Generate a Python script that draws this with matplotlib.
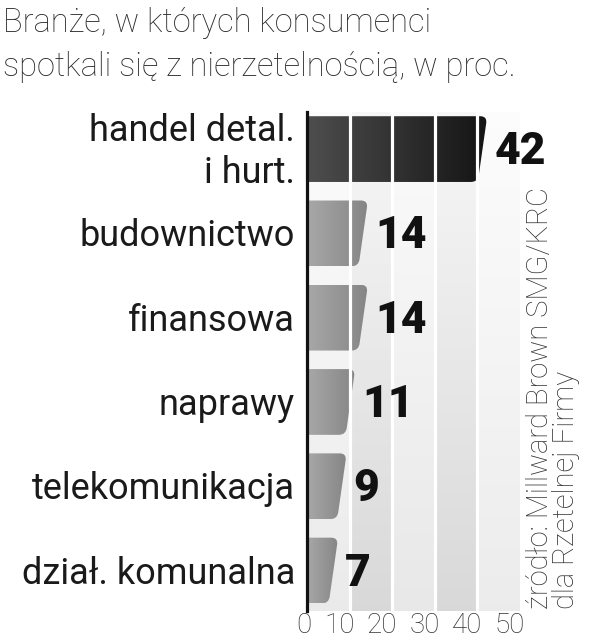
import numpy as np
import matplotlib
matplotlib.use("Agg")
import matplotlib.pyplot as plt
from matplotlib.path import Path
from matplotlib.patches import PathPatch
from matplotlib.colors import LinearSegmentedColormap
import matplotlib.transforms as mtransforms

# dane
categories = ["handel detal.\ni hurt.", "budownictwo", "finansowa",
              "naprawy", "telekomunikacja", "dział. komunalna"]
values = [42, 14, 14, 11, 9, 7]
ticks = [0, 10, 20, 30, 40, 50]
title_lines = ["Branże, w których konsumenci",
               "spotkali się z nierzetelnością, w proc."]
source_lines = ["źródło: Millward Brown SMG/KRC", "dla Rzetelnej Firmy"]

NARROW = ["Liberation Sans Narrow", "Roboto", "DejaVu Sans"]
LIGHT = ["Roboto", "DejaVu Sans"]

fig = plt.figure(figsize=(6, 6.4), dpi=100)
ax = fig.add_axes([307 / 600, 29 / 640, 213 / 600, 499 / 640])
ax.set_xlim(0, 50)
ax.set_ylim(5.48, -0.44)
for s in ax.spines.values():
    s.set_visible(False)
ax.set_yticks([])

# tlo: pionowe pasy z gradientem
top_g = [0.99, 0.97, 0.985, 0.97, 0.99]
bot_g = [0.92, 0.85, 0.91, 0.85, 0.925]
rows = 200
bg = np.zeros((rows, 50, 3))
t = np.linspace(0, 1, rows)[:, None]
for i in range(5):
    col = top_g[i] + (bot_g[i] - top_g[i]) * t
    bg[:, i * 10:(i + 1) * 10, :] = col[:, :, None]
ax.imshow(bg, extent=(0, 50, 5.48, -0.44), aspect="auto",
          interpolation="nearest", zorder=0)

bar_h = 0.78


def rounded_bar(y, v, r=7):
    top, bot = y - bar_h / 2, y + bar_h / 2
    pts = ax.transData.transform([(0, top), (v + 0.3, top),
                                  (v - 1.9, bot), (0, bot)])
    verts, codes = [pts[0]], [Path.MOVETO]
    for k in (1, 2):
        p, c, n = pts[k - 1], pts[k], pts[k + 1]
        a = c + r * (p - c) / np.linalg.norm(p - c)
        b = c + r * (n - c) / np.linalg.norm(n - c)
        verts += [a, c, b]
        codes += [Path.LINETO, Path.CURVE3, Path.CURVE3]
    verts += [pts[3], pts[0]]
    codes += [Path.LINETO, Path.CLOSEPOLY]
    verts = ax.transData.inverted().transform(np.array(verts))
    return Path(verts, codes)


dark = LinearSegmentedColormap.from_list("d", ["#4e4e4e", "#141414"])
light = LinearSegmentedColormap.from_list("l", ["#a8a8a8", "#858585"])
grad = np.linspace(0, 1, 256)[None, :]

for i, (lab, v) in enumerate(zip(categories, values)):
    patch = PathPatch(rounded_bar(i, v), transform=ax.transData)
    im = ax.imshow(grad, extent=(0, v + 0.3, i + bar_h / 2, i - bar_h / 2),
                   cmap=dark if i == 0 else light, aspect="auto",
                   interpolation="bilinear", zorder=2)
    im.set_clip_path(patch)

    ax.annotate(str(v), xy=(v + 0.3, i), xytext=(7, -15),
                textcoords="offset pixels", ha="left", va="baseline",
                fontsize=32, fontweight="black", family=NARROW,
                color="#111111", zorder=6)

    lines = lab.split("\n")
    n = len(lines)
    for j, line in enumerate(lines):
        ax.annotate(line, xy=(0, i), xytext=(-12, -13 + 21 * (n - 1) - 42 * j),
                    textcoords="offset pixels", ha="right", va="baseline",
                    fontsize=26, family=LIGHT, color="#1a1a1a",
                    annotation_clip=False)

ax.set_xlim(0, 50)
ax.set_ylim(5.48, -0.44)

# biale przerwy co 10
for x in ticks[1:-1]:
    ax.axvline(x, color="white", lw=2.3, zorder=4)
ax.axvline(0, color="#111111", lw=2.3, zorder=5, clip_on=False)

ax.set_xticks(ticks)
ax.set_xticklabels([str(x) for x in ticks], fontsize=20, family=LIGHT,
                   fontweight="light", color="#333333")
ax.tick_params(axis="x", length=0, pad=0.5)
shift = mtransforms.ScaledTranslation(5 / 100, 0, fig.dpi_scale_trans)
for tl in ax.get_xticklabels():
    tl.set_ha("right")
    tl.set_transform(tl.get_transform() + shift)

# tytul
fig.text(3 / 600, 1 - 32 / 640, title_lines[0], fontsize=23.5, family=NARROW,
         fontweight="light", color="#2a2a2a", va="baseline")
fig.text(3 / 600, 1 - 76 / 640, title_lines[1], fontsize=23.5, family=NARROW,
         fontweight="light", color="#2a2a2a", va="baseline")

# zrodlo
for k, line in enumerate(source_lines):
    fig.text((548 + 26 * k) / 600, 31 / 640, line, rotation=90,
             rotation_mode="anchor", ha="left", va="baseline",
             fontsize=21, family=LIGHT, fontweight="light", color="#333333")

fig.savefig("out.png", dpi=100)
